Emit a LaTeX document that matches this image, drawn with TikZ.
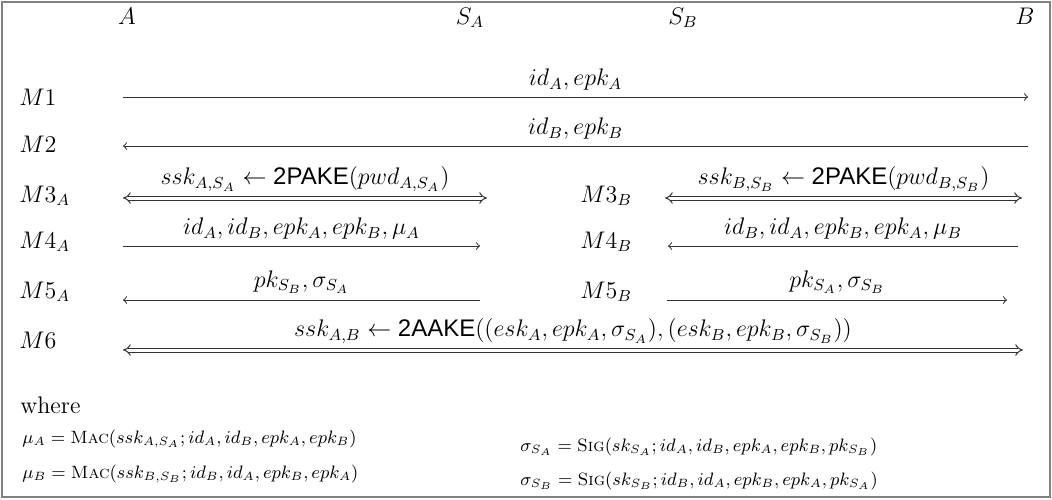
\documentclass[tikz,border=0pt]{standalone}
\usepackage{fontspec}
\setsansfont{Liberation Sans}
\usetikzlibrary{arrows.meta}
\begin{document}
\begin{tikzpicture}[x=0.5pt,y=-0.5pt, font=\fontsize{12}{14}\selectfont,
    msg/.style={-to, line width=0.5pt, draw=black!80},
    pake/.style={draw=black!80, line width=0.5pt, double=white, double distance=1.5pt, Implies-Implies},
    lbl/.style={above, inner sep=3pt, text=black},
    who/.style={anchor=base},
    row/.style={anchor=base west, inner sep=0pt},
    defn/.style={row, font=\fontsize{8.9}{10}\selectfont}]
    \useasboundingbox (0,0) rectangle (1052,499);
    \draw[gray, line width=0.6pt] (2,2) rectangle (1050,497);

    % parties
    \node[who] (A)  at (127,24) {$A$};
    \node[who] (SA) at (470,24) {$S_A$};
    \node[who] (SB) at (683,24) {$S_B$};
    \node[who] (B)  at (1025,24) {$B$};

    % row names
    \node[row] (m1)  at (19,105) {$M1$};
    \node[row] (m2)  at (19,152) {$M2$};
    \node[row] (m3a) at (19,202) {$M3_A$};
    \node[row] (m4a) at (19,248) {$M4_A$};
    \node[row] (m5a) at (19,298) {$M5_A$};
    \node[row] (m6)  at (19,348) {$M6$};
    \node[row] (m3b) at (580,202) {$M3_B$};
    \node[row] (m4b) at (580,248) {$M4_B$};
    \node[row] (m5b) at (580,298) {$M5_B$};

    % arrow ends
    \coordinate (a1) at (123,97);   \coordinate (b1) at (1028,97);
    \coordinate (a2) at (123,146);  \coordinate (b2) at (1028,146);
    \coordinate (a3) at (123,198);  \coordinate (s3) at (487,198);
    \coordinate (t3) at (665,198);  \coordinate (b3) at (1022,198);
    \coordinate (a4) at (123,246);  \coordinate (s4) at (480,246);
    \coordinate (t4) at (668,246);  \coordinate (b4) at (1018,246);
    \coordinate (a5) at (123,300);  \coordinate (s5) at (480,300);
    \coordinate (t5) at (667,300);  \coordinate (b5) at (1007,300);
    \coordinate (a6) at (123,350);  \coordinate (b6) at (1023,350);

    % messages
    \draw[msg] (a1) -- node[lbl] (l1) {$id_A, epk_A$} (b1);
    \draw[msg] (b2) -- node[lbl] (l2) {$id_B, epk_B$} (a2);
    \draw[pake] (a3) -- node[lbl] (l3a) {$ssk_{A,S_A} \leftarrow \textsf{2PAKE}(pwd_{A,S_A})$} (s3);
    \draw[pake] (t3) -- node[lbl] (l3b) {$ssk_{B,S_B} \leftarrow \textsf{2PAKE}(pwd_{B,S_B})$} (b3);
    \draw[msg] (a4) -- node[lbl] (l4a) {$id_A, id_B, epk_A, epk_B, \mu_A$} (s4);
    \draw[msg] (b4) -- node[lbl] (l4b) {$id_B, id_A, epk_B, epk_A, \mu_B$} (t4);
    \draw[msg] (s5) -- node[lbl] (l5a) {$pk_{S_B}, \sigma_{S_A}$} (a5);
    \draw[msg] (t5) -- node[lbl] (l5b) {$pk_{S_A}, \sigma_{S_B}$} (b5);
    \draw[pake] (a6) -- node[lbl] (l6) {$ssk_{A,B} \leftarrow \textsf{2AAKE}((esk_A, epk_A, \sigma_{S_A}), (esk_B, epk_B, \sigma_{S_B}))$} (b6);

    % definitions
    \node[row] (where) at (20,413) {where};
    \node[defn] (muA) at (22,443) {$\mu_A = \textsc{Mac}(ssk_{A,S_A}; id_A, id_B, epk_A, epk_B)$};
    \node[defn] (muB) at (22,478) {$\mu_B = \textsc{Mac}(ssk_{B,S_B}; id_B, id_A, epk_B, epk_A)$};
    \node[defn] (sgA) at (520,451) {$\sigma_{S_A} = \textsc{Sig}(sk_{S_A}; id_A, id_B, epk_A, epk_B, pk_{S_B})$};
    \node[defn] (sgB) at (520,485) {$\sigma_{S_B} = \textsc{Sig}(sk_{S_B}; id_B, id_A, epk_B, epk_A, pk_{S_A})$};
\end{tikzpicture}
\end{document}
